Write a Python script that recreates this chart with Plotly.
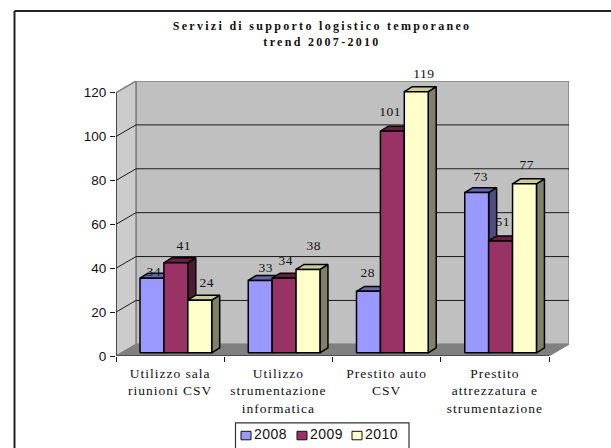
import plotly.graph_objects as go

# ---- data ----
categories = ["Utilizzo sala<br>riunioni CSV",
              "Utilizzo<br>strumentazione<br>informatica",
              "Prestito auto<br>CSV",
              "Prestito<br>attrezzatura e<br>strumentazione"]
series_names = ["2008", "2009", "2010"]
values_2008 = [34, 33, 28, 73]
values_2009 = [41, 34, 101, 51]
values_2010 = [24, 38, 119, 77]
y_ticks = [0, 20, 40, 60, 80, 100, 120]
title_lines = "Servizi di supporto logistico temporaneo<br>trend 2007-2010"

# ---- styles ----
front_colors = ["#9999FF", "#993366", "#FFFFCC"]
top_colors = ["#6666AA", "#661F44", "#CCCC99"]
side_colors = ["#4D4D80", "#4D1A33", "#808066"]
label_nudges = {  # (series, category): (dx px, dy px) from bar-top centre
    (0, 0): (2, -7), (1, 0): (8, -17), (2, 0): (7, -18),
    (0, 1): (6, -13), (1, 1): (2, -18), (2, 1): (6, -24),
    (0, 2): (0, -19), (1, 2): (-2, -20), (2, 2): (8, -18),
    (0, 3): (4, -16), (1, 3): (2, -19), (2, 3): (2, -19),
}
W, H = 611, 448
PLOT_L, PLOT_R, PLOT_T, PLOT_B = 116, 569, 80.8, 356.5
PX_X = 108.25       # pixels per category
PX_Y = 2.2          # pixels per value unit
WALL_DX, WALL_DY = 20 / PX_X, 11.7 / PX_Y
BASE = 3.2 / PX_Y
GROUP_START = 24 / PX_X
BAR_W = 23.9 / PX_X
BAR_DX, BAR_DY = 8 / PX_X, 5 / PX_Y
TOP = y_ticks[-1]
N = len(categories)
all_values = [values_2008, values_2009, values_2010]

fig = go.Figure()


def poly(xs, ys, fill, line_color="black", line_w=1.5):
    fig.add_trace(go.Scatter(x=xs, y=ys, mode="lines", fill="toself", fillcolor=fill,
                             line=dict(color=line_color, width=line_w),
                             hoverinfo="skip", showlegend=False))


def line(xs, ys, color, w):
    fig.add_trace(go.Scatter(x=xs, y=ys, mode="lines", line=dict(color=color, width=w),
                             hoverinfo="skip", showlegend=False))


# walls and floor
poly([WALL_DX, N + WALL_DX, N + WALL_DX, WALL_DX, WALL_DX],
     [WALL_DY, WALL_DY, TOP + WALL_DY, TOP + WALL_DY, WALL_DY], "#C0C0C0", "#808080", 1.5)
poly([0, WALL_DX, WALL_DX, 0, 0], [0, WALL_DY, TOP + WALL_DY, TOP, 0], "#CCCCCC", "#808080", 1.5)
poly([0, N, N + WALL_DX, WALL_DX, 0], [0, 0, WALL_DY, WALL_DY, 0], "#808080", "#808080", 1)

# gridlines: diagonal on the side wall then straight across the back wall
gx, gy = [], []
for t in y_ticks[1:-1]:
    gx += [0, WALL_DX, N + WALL_DX, None]
    gy += [t, t + WALL_DY, t + WALL_DY, None]
line(gx, gy, "#1a1a1a", 1)

# bars (drawn back-to-front, left to right)
for s, vals in enumerate(all_values):
    sx, sy, tx, ty, fx, fy = [], [], [], [], [], []
    for c, v in enumerate(vals):
        x0 = c + GROUP_START + s * BAR_W
        x1 = x0 + BAR_W
        y0, y1 = BASE, BASE + v
        sx += [x1, x1 + BAR_DX, x1 + BAR_DX, x1, x1, None]
        sy += [y0, y0 + BAR_DY, y1 + BAR_DY, y1, y0, None]
        tx += [x0, x0 + BAR_DX, x1 + BAR_DX, x1, x0, None]
        ty += [y1, y1 + BAR_DY, y1 + BAR_DY, y1, y1, None]
        fx += [x0, x1, x1, x0, x0, None]
        fy += [y0, y0, y1, y1, y0, None]
    poly(sx, sy, side_colors[s])
    poly(tx, ty, top_colors[s])
    poly(fx, fy, front_colors[s])

# front axes
line([0, 0], [0, TOP], "#1a1a1a", 1.2)
line([0, N], [0, 0], "#1a1a1a", 1.2)

# data labels
for s, vals in enumerate(all_values):
    for c, v in enumerate(vals):
        dx, dy = label_nudges[(s, c)]
        fig.add_annotation(x=c + GROUP_START + (s + 0.5) * BAR_W, y=BASE + v, text=str(v),
                           showarrow=False, xshift=dx, yshift=-dy, yanchor="middle",
                           font=dict(family="Liberation Serif", size=13.5, color="#111111"))


# paper coordinates span the plot area, so convert from page pixels
def px(x):
    return (x - PLOT_L) / (PLOT_R - PLOT_L)


def py(y):
    return (PLOT_B - y) / (PLOT_B - PLOT_T)


# legend box
fig.add_shape(type="rect", xref="paper", yref="paper", x0=px(235.5), x1=px(409),
              y0=py(423.5), y1=py(460), line=dict(color="#333333", width=1.2), fillcolor="white")
leg_x = [241, 297, 352]
for i, name in enumerate(series_names):
    fig.add_shape(type="rect", xref="paper", yref="paper", x0=px(leg_x[i]), x1=px(leg_x[i] + 10),
                  y0=py(432), y1=py(440.5), line=dict(color="#111111", width=1),
                  fillcolor=front_colors[i])
    fig.add_annotation(xref="paper", yref="paper", x=px(leg_x[i] + 14), y=py(435), text=name,
                       showarrow=False, xanchor="left", yanchor="middle", xshift=-2,
                       font=dict(family="Liberation Sans", size=14, color="#111111"))

# chart frame: top and left edges only
fig.add_shape(type="line", xref="paper", yref="paper", x0=px(14.5), x1=px(W + 2), y0=py(10.5), y1=py(10.5),
              line=dict(color="#222222", width=2))
fig.add_shape(type="line", xref="paper", yref="paper", x0=px(14.5), x1=px(14.5), y0=py(10.5), y1=py(H + 2),
              line=dict(color="#222222", width=2))

fig.update_layout(
    width=W, height=H,
    margin=dict(l=PLOT_L, r=W - PLOT_R, t=PLOT_T, b=H - PLOT_B, autoexpand=False),
    paper_bgcolor="white", plot_bgcolor="white", showlegend=False,
    title=dict(text="<b>" + title_lines + "</b>", x=322 / W, xanchor="center", y=1 - 30 / H,
               yanchor="middle", font=dict(family="Liberation Serif", size=12, color="#111111")),
    xaxis=dict(range=[0, N + WALL_DX], tickmode="array", tickvals=[i + 0.5 for i in range(N)],
               ticktext=categories, ticks="", showgrid=False, zeroline=False, showline=False,
               ticklabelstandoff=7,
               tickfont=dict(family="Liberation Serif", size=13.5, color="#111111"),
               minor=dict(tickmode="array", tickvals=list(range(N + 1)), ticks="outside",
                          ticklen=5, tickwidth=1, tickcolor="#1a1a1a", showgrid=False)),
    yaxis=dict(range=[0, TOP + WALL_DY], tickmode="array", tickvals=y_ticks, ticks="outside",
               ticklen=5, tickwidth=1, tickcolor="#1a1a1a", showgrid=False, zeroline=False,
               showline=False, ticklabelstandoff=1,
               tickfont=dict(family="Liberation Sans", size=13.5, color="#111111")),
)

css = ("body{margin:0;overflow:hidden}"
       ".gtitle{letter-spacing:2.3px}"
       ".xtick text{letter-spacing:1px}"
       ".annotation-text{letter-spacing:.5px}")
post = ("var s=document.createElement('style');s.textContent='" + css + "';"
        "document.head.appendChild(s);")
fig.write_html("out.html", post_script=post, config={"displayModeBar": False})
